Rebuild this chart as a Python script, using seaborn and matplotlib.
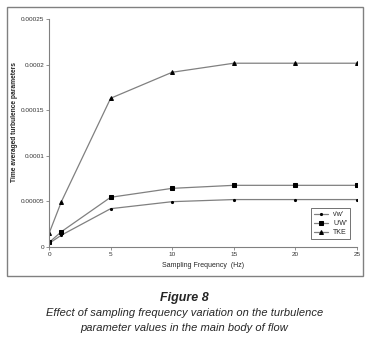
import matplotlib
matplotlib.use("Agg")
import matplotlib.pyplot as plt
import seaborn as sns
import pandas as pd
from matplotlib.patches import Rectangle

freq = [0, 1, 5, 10, 15, 20, 25]
vw = [4e-6, 1.3e-5, 4.2e-5, 4.97e-5, 5.2e-5, 5.2e-5, 5.2e-5]
uw = [5e-6, 1.68e-5, 5.45e-5, 6.43e-5, 6.76e-5, 6.76e-5, 6.76e-5]
tke = [1.5e-5, 4.97e-5, 1.63e-4, 1.915e-4, 2.014e-4, 2.014e-4, 2.014e-4]
labels = ["v'w'", "U'W'", "TKE"]
yticks = [0, 0.00005, 0.0001, 0.00015, 0.0002, 0.00025]
yticklabels = ["0", "0.00005", "0.0001", "0.00015", "0.0002", "0.00025"]

df = pd.DataFrame({"freq": freq * 3,
                   "val": vw + uw + tke,
                   "series": [labels[0]] * 7 + [labels[1]] * 7 + [labels[2]] * 7})

sns.set_style("white")
plt.rcParams["font.family"] = ["Liberation Sans", "DejaVu Sans"]

fig = plt.figure(figsize=(3.69, 3.37), dpi=100)
fig.patches.append(Rectangle((0.019, 0.181), 0.965, 0.798, transform=fig.transFigure,
                             fill=False, edgecolor="#808080", linewidth=1.0))
ax = fig.add_axes([0.133, 0.267, 0.834, 0.677])

markers = {"v'w'": ".", "U'W'": "s", "TKE": "^"}
sizes = {"v'w'": 3, "U'W'": 2.8, "TKE": 2.8}
for s in labels:
    d = df[df.series == s]
    sns.lineplot(data=d, x="freq", y="val", ax=ax, color="#808080", linewidth=0.9,
                 marker=markers[s], markersize=sizes[s], markerfacecolor="black",
                 markeredgecolor="black", label=s)

ax.set_xlim(0, 25)
ax.set_ylim(0, 0.00025)
ax.set_xticks([0, 5, 10, 15, 20, 25])
ax.set_yticks(yticks)
ax.set_yticklabels(yticklabels)
ax.tick_params(labelsize=4.6, colors="#808080", labelcolor="#333333", length=2, width=0.6,
               left=True, bottom=True, pad=1.5)
for sp in ["top", "right"]:
    ax.spines[sp].set_visible(False)
for sp in ["left", "bottom"]:
    ax.spines[sp].set_color("#808080")
    ax.spines[sp].set_linewidth(0.8)
ax.set_xlabel("Sampling Frequency  (Hz)", fontsize=5, labelpad=4)
ax.set_ylabel("Time averaged turbulence parameters", fontsize=4.8, fontweight="bold")
ax.yaxis.set_label_coords(-0.1, 0.55)

leg = ax.legend(loc="lower right", bbox_to_anchor=(0.99, 0.02), fontsize=5, frameon=True,
                fancybox=False, handlelength=2, borderpad=0.4, labelspacing=0.3)
leg.get_frame().set_edgecolor("#333333")
leg.get_frame().set_linewidth(0.6)

fig.text(0.5, 0.115, "Figure 8", ha="center", va="center", fontsize=9,
         style="italic", fontweight="bold")
fig.text(0.5, 0.07, "Effect of sampling frequency variation on the turbulence",
         ha="center", va="center", fontsize=8, style="italic")
fig.text(0.5, 0.027, "parameter values in the main body of flow",
         ha="center", va="center", fontsize=8, style="italic")

fig.savefig("out.png", dpi=100)
